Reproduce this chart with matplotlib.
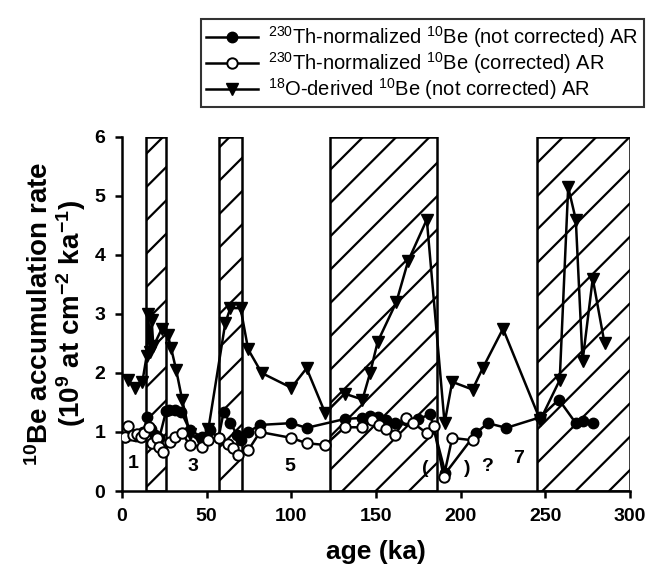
import matplotlib
matplotlib.use("Agg")
import matplotlib.pyplot as plt
from matplotlib.patches import Rectangle

plt.rcParams['font.family'] = ['Liberation Sans', 'DejaVu Sans']
plt.rcParams['mathtext.fontset'] = 'custom'
plt.rcParams['mathtext.rm'] = 'Liberation Sans'
plt.rcParams['mathtext.bf'] = 'Liberation Sans:bold'
plt.rcParams['mathtext.it'] = 'Liberation Sans:italic'
plt.rcParams['hatch.linewidth'] = 1.6

# 18O-derived 10Be (not corrected) AR
ages_t = [3.5, 7.5, 12, 14.5, 15.5, 16.5, 17.5, 18.5, 23.5, 27, 29, 32, 35.5, 40, 46, 51,
          61, 64, 70, 74.5, 82.5, 100, 109, 120, 131.5, 142, 146.5, 151, 162, 169, 180,
          190.5, 195, 207, 213, 225, 247, 258.5, 263.5, 268, 272, 278, 285]
vals_t = [1.88, 1.75, 1.85, 2.28, 3.0, 2.35, 2.9, 2.45, 2.75, 2.65, 2.42, 2.05, 1.55, 0.97, 0.85, 1.05,
          2.85, 3.1, 3.1, 2.4, 2.0, 1.75, 2.08, 1.32, 1.65, 1.55, 2.0, 2.53, 3.2, 3.9, 4.6,
          1.15, 1.85, 1.72, 2.08, 2.75, 1.2, 1.88, 5.15, 4.6, 2.2, 3.6, 2.5]

# 230Th-normalized 10Be (not corrected) AR
ages_f = [2, 5, 8.5, 12.5, 15, 17, 19.5, 22, 26, 28, 31, 35, 40, 47, 52, 57, 60, 64, 68, 70,
          74.5, 81.5, 100, 109, 131.5, 142, 146.5, 151, 156, 161, 168, 175, 182, 191, 209,
          216, 227, 247, 258, 268, 272, 278]
vals_f = [0.92, 0.95, 0.93, 1.0, 1.25, 1.05, 0.95, 0.9, 1.35, 1.37, 1.37, 1.34, 1.03, 0.92, 1.03,
          0.9, 1.34, 1.15, 0.95, 0.86, 1.0, 1.12, 1.15, 1.07, 1.22, 1.24, 1.27, 1.25, 1.2, 1.15,
          1.2, 1.22, 1.3, 0.3, 0.98, 1.15, 1.07, 1.25, 1.55, 1.15, 1.18, 1.15]

# 230Th-normalized 10Be (corrected) AR
ages_o = [1.5, 3.5, 6.5, 9, 11, 13, 16, 17.7, 20.5, 22, 24, 28.4, 31.3, 35.4, 40, 47, 51, 57,
          62.5, 65.5, 68.5, 74.5, 81.5, 100, 109, 120, 131.5, 142, 147.5, 152, 156, 161, 168,
          172, 180, 184, 190, 195, 207]
vals_o = [0.92, 1.1, 0.95, 0.97, 0.92, 0.98, 1.08, 0.82, 0.9, 0.75, 0.66, 0.83, 0.92, 0.98, 0.78,
          0.75, 0.86, 0.9, 0.8, 0.73, 0.61, 0.69, 1.0, 0.9, 0.81, 0.78, 1.08, 1.08, 1.2, 1.12,
          1.05, 0.95, 1.24, 1.15, 0.98, 1.1, 0.24, 0.9, 0.86]

# glacial stage bands (hatched)
band_starts = [14, 57, 123, 245]
band_ends = [26, 71, 186, 300]

# stage labels
stage_labels = ['1', '3', '5', '(', ')', '?', '7']
stage_x = [6.5, 42, 99, 179, 204, 215.5, 234]
stage_y = [0.47, 0.42, 0.42, 0.38, 0.38, 0.42, 0.55]

fig = plt.figure(figsize=(6.47, 5.71), dpi=100)
ax = fig.add_axes([0.1886, 0.1401, 0.7851, 0.62])

for s, e in zip(band_starts, band_ends):
    ax.add_patch(Rectangle((s, 0), e - s, 6, facecolor='white', edgecolor='black',
                           hatch='/', linewidth=1.8, zorder=1))

l1, = ax.plot(ages_f, vals_f, color='black', lw=1.8, marker='o', ms=7.5,
              mfc='black', mec='black', zorder=4)
l2, = ax.plot(ages_o, vals_o, color='black', lw=1.8, marker='o', ms=7.5,
              mfc='white', mec='black', mew=1.4, zorder=5)
l3, = ax.plot(ages_t, vals_t, color='black', lw=1.8, marker='v', ms=8.5,
              mfc='black', mec='black', zorder=3)

for t, x, y in zip(stage_labels, stage_x, stage_y):
    ax.text(x, y, t, ha='center', va='center', fontsize=14, fontweight='bold', zorder=6)

ax.set_xlim(0, 300)
ax.set_ylim(0, 6)
ax.set_xticks([0, 50, 100, 150, 200, 250, 300])
ax.set_yticks([0, 1, 2, 3, 4, 5, 6])
ax.spines['top'].set_visible(False)
ax.spines['right'].set_visible(False)
ax.spines['left'].set_linewidth(1.8)
ax.spines['bottom'].set_linewidth(1.8)
ax.tick_params(direction='out', length=5, width=1.8, labelsize=14, pad=7)
for lab in ax.get_xticklabels() + ax.get_yticklabels():
    lab.set_fontweight('bold')

ax.set_xlabel('age (ka)', fontsize=19, fontweight='bold', labelpad=11)
ax.set_ylabel('$\\mathbf{^{10}}$Be accumulation rate\n(10$\\mathbf{^9}$ at cm$\\mathbf{^{-2}}$ ka$\\mathbf{^{-1}}$)',
              fontsize=20, fontweight='bold', labelpad=5, linespacing=1.0)

leg = fig.legend([l1, l2, l3],
                 ['$^{230}$Th-normalized $^{10}$Be (not corrected) AR',
                  '$^{230}$Th-normalized $^{10}$Be (corrected) AR',
                  '$^{18}$O-derived $^{10}$Be (not corrected) AR'],
                 loc='upper right', bbox_to_anchor=(0.995, 0.967), fontsize=14.5,
                 frameon=True, fancybox=False, edgecolor='black', handlelength=2.6,
                 borderpad=0.25, labelspacing=0.02, handletextpad=0.5, borderaxespad=0)
leg.get_frame().set_linewidth(1.5)

fig.savefig('out.png', dpi=100)
